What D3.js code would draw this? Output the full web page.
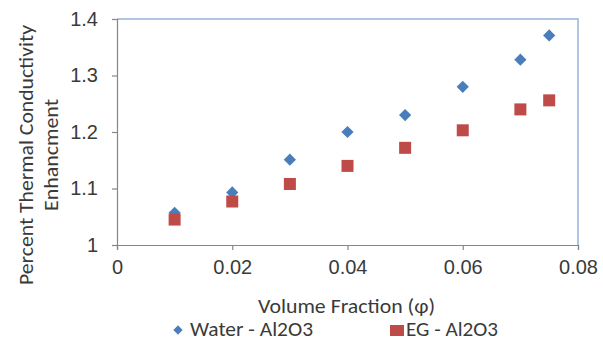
<!DOCTYPE html>
<html>
<head>
<meta charset="utf-8">
<script src="https://cdn.jsdelivr.net/npm/d3@7"></script>
<style>
  html, body { margin: 0; padding: 0; background: #fff; }
  svg { display: block; font-family: Carlito, "Liberation Sans", Arial, sans-serif; }
</style>
</head>
<body>
<svg id="chart" width="603" height="340"></svg>
<script>
// Volume fraction of nanoparticles (x) and measured conductivity ratio (y)
const volumeFraction = [0.01, 0.02, 0.03, 0.04, 0.05, 0.06, 0.07, 0.075];
const waterAl2O3 = [1.057, 1.093, 1.151, 1.200, 1.230, 1.280, 1.328, 1.371];
const egAl2O3 = [1.045, 1.077, 1.108, 1.140, 1.172, 1.203, 1.240, 1.256];
const xTicks = [0, 0.02, 0.04, 0.06, 0.08];
const yTicks = [1, 1.1, 1.2, 1.3, 1.4];
const seriesNames = ["Water - Al2O3", "EG - Al2O3"];

const svg = d3.select("#chart");
const plot = { left: 117, right: 578, top: 19, bottom: 245 };

const x = d3.scaleLinear().domain([0, 0.08]).range([plot.left, plot.right]);
const y = d3.scaleLinear().domain([1, 1.4]).range([plot.bottom, plot.top]);

const axisColor = "#868686";
const textColor = "#3a3a3a";
const fontSize = 20;

// Plot-area frame (top and right edges)
svg.append("path")
  .attr("d", `M${plot.left},${plot.top}H${plot.right}V${plot.bottom}`)
  .attr("fill", "none")
  .attr("stroke", "#95B3D7")
  .attr("stroke-width", 1.5);

// X axis
const xAxis = svg.append("g")
  .attr("transform", `translate(0,${plot.bottom})`)
  .call(d3.axisBottom(x).tickValues(xTicks).tickSize(5).tickPadding(10)
    .tickFormat(d => d === 0 ? "0" : d3.format(".2f")(d)));
xAxis.select(".domain").attr("stroke", axisColor).attr("stroke-width", 1.2);
xAxis.selectAll(".tick line").attr("stroke", axisColor).attr("stroke-width", 1.2);
xAxis.selectAll(".tick text").attr("fill", textColor)
  .style("font-size", fontSize + "px").style("font-family", "inherit");

// Y axis
const yAxis = svg.append("g")
  .attr("transform", `translate(${plot.left},0)`)
  .call(d3.axisLeft(y).tickValues(yTicks).tickSize(5).tickPadding(14)
    .tickFormat(d => d === 1 ? "1" : d3.format(".1f")(d)));
yAxis.select(".domain").attr("stroke", axisColor).attr("stroke-width", 1.2);
yAxis.selectAll(".tick line").attr("stroke", axisColor).attr("stroke-width", 1.2);
yAxis.selectAll(".tick text").attr("fill", textColor)
  .style("font-size", fontSize + "px").style("font-family", "inherit");

// Axis titles
svg.append("text")
  .attr("x", 346.5).attr("y", 313)
  .attr("text-anchor", "middle")
  .attr("fill", textColor)
  .style("font-size", fontSize + "px")
  .attr("textLength", 177).attr("lengthAdjust", "spacingAndGlyphs")
  .text("Volume Fraction (φ)");

const yTitle = svg.append("text")
  .attr("transform", "translate(0,155) rotate(-90)")
  .attr("text-anchor", "middle")
  .attr("fill", textColor)
  .style("font-size", fontSize + "px");
yTitle.append("tspan").attr("x", 0).attr("y", 33)
  .attr("textLength", 260).attr("lengthAdjust", "spacingAndGlyphs")
  .text("Percent Thermal Conductivity");
yTitle.append("tspan").attr("x", 0).attr("y", 58)
  .attr("textLength", 112).attr("lengthAdjust", "spacingAndGlyphs")
  .text("Enhancment");

// Markers
const blue = "#4A7EBB";
const red = "#BE4B48";
const diamond = d3.symbol().type(d3.symbolDiamond2).size(95);

svg.append("g").selectAll("path")
  .data(volumeFraction.map((v, i) => [v, waterAl2O3[i]]))
  .join("path")
  .attr("transform", d => `translate(${x(d[0])},${y(d[1])})`)
  .attr("d", diamond)
  .attr("fill", blue);

const sq = 12;
svg.append("g").selectAll("rect")
  .data(volumeFraction.map((v, i) => [v, egAl2O3[i]]))
  .join("rect")
  .attr("x", d => x(d[0]) - sq / 2)
  .attr("y", d => y(d[1]) - sq / 2)
  .attr("width", sq).attr("height", sq)
  .attr("fill", red);

// Legend
const legendY = 330;
svg.append("path")
  .attr("transform", `translate(178,${legendY})`)
  .attr("d", d3.symbol().type(d3.symbolDiamond2).size(55))
  .attr("fill", blue);
svg.append("text")
  .attr("x", 190).attr("y", legendY + 6)
  .attr("fill", textColor).style("font-size", fontSize + "px")
  .attr("textLength", 123).attr("lengthAdjust", "spacingAndGlyphs")
  .text(seriesNames[0]);
svg.append("rect")
  .attr("x", 390).attr("y", legendY - 5).attr("width", 14).attr("height", 11)
  .attr("fill", red);
svg.append("text")
  .attr("x", 406).attr("y", legendY + 6)
  .attr("fill", textColor).style("font-size", fontSize + "px")
  .attr("textLength", 92).attr("lengthAdjust", "spacingAndGlyphs")
  .text(seriesNames[1]);
</script>
</body>
</html>
